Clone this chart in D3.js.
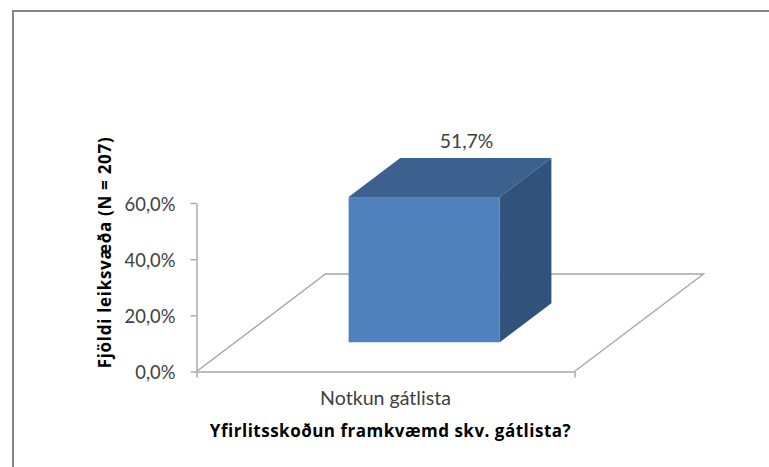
<!DOCTYPE html>
<html>
<head>
<meta charset="utf-8">
<script src="https://cdn.jsdelivr.net/npm/d3@7"></script>
<style>
  html, body { margin: 0; padding: 0; background: #fff; overflow: hidden; }
  text { font-family: Lato, "Open Sans", sans-serif; }
  .axis-title { font-family: "Open Sans", Lato, sans-serif; font-size: 17px; font-weight: 700; }
</style>
</head>
<body>
<div id="chart"></div>
<script>
const categories = ['Notkun gátlista']
const values = [51.7]
const yTicks = [0, 20, 40, 60]
const xTitle = 'Yfirlitsskoðun framkvæmd skv. gátlista?'
const yTitle = 'Fjöldi leiksvæða (N = 207)'

// Our canvas
const width = 769,
  height = 467

const plot = { left: 196.5, right: 574.5, top: 203, bottom: 371.5 }
// how far the floor runs back, in px
const floorDx = 129,
  floorDy = 97.5

let svg = d3.select('#chart')
  .append('svg')
  .attr('width', width)
  .attr('height', height)
  .style('display', 'block')

// Outer frame, open on the right and at the bottom
svg.append('path')
  .attr('d', `M13,${height}V11H${width}`)
  .attr('fill', 'none')
  .attr('stroke', '#868686')
  .attr('stroke-width', 2)

let x = d3.scaleBand()
  .domain(categories)
  .range([plot.left, plot.right])
  .paddingInner(0)
  .paddingOuter(0.75)

let y = d3.scaleLinear()
  .domain([0, 60])
  .range([plot.bottom, plot.top])

// Depth 0 is the front edge of the floor, 1 the back edge
let depthX = d3.scaleLinear().domain([0, 1]).range([0, floorDx])
let depthY = d3.scaleLinear().domain([0, 1]).range([0, -floorDy])

// Floor
svg.append('path')
  .attr('d', [
    `M${plot.left},${plot.bottom}`,
    `L${plot.left + depthX(1)},${plot.bottom + depthY(1)}`,
    `L${plot.right + depthX(1)},${plot.bottom + depthY(1)}`,
    `L${plot.right},${plot.bottom}`
  ].join(''))
  .attr('fill', 'none')
  .attr('stroke', '#a6a6a6')
  .attr('stroke-width', 1.4)

// Axes
let yAxis = svg.append('g')
  .attr('transform', `translate(${plot.left},0)`)
  .call(d3.axisLeft(y)
    .tickValues(yTicks)
    .tickSize(6)
    .tickSizeOuter(0)
    .tickPadding(15)
    .tickFormat(d => d3.format('.1f')(d).replace('.', ',') + '%'))

let xAxis = svg.append('g')
  .attr('transform', `translate(0,${plot.bottom})`)
  .call(d3.axisBottom(x)
    .tickSize(0)
    .tickSizeOuter(6)
    .tickPadding(20))

svg.selectAll('.domain, .tick line')
  .attr('stroke', '#a6a6a6')
  .attr('stroke-width', 1.4)

yAxis.selectAll('.tick text')
  .attr('fill', '#404040')
  .attr('dy', '0.4em')
  .style('font-size', '18.4px')

xAxis.selectAll('.tick text')
  .attr('fill', '#404040')
  .style('font-size', '19.6px')

// Bar, standing in the middle of the floor depth
const barFront = 0.3,
  barBack = 0.7

let bars = svg.append('g')
  .selectAll('g')
  .data(values)
  .enter()
  .append('g')

let x0 = (d, i) => x(categories[i]) + depthX(barFront)
let x1 = (d, i) => x0(d, i) + x.bandwidth()
let yBase = y(0) + depthY(barFront)
let dx = depthX(barBack - barFront)
let dy = depthY(barBack - barFront)
let yTop = d => y(d) + depthY(barFront)

// top face
bars.append('path')
  .attr('d', (d, i) => `M${x0(d, i)},${yTop(d)}l${dx},${dy}H${x1(d, i) + dx}L${x1(d, i)},${yTop(d)}Z`)
  .attr('fill', '#3c618f')

// side face
bars.append('path')
  .attr('d', (d, i) => `M${x1(d, i)},${yTop(d)}l${dx},${dy}V${yBase + dy}L${x1(d, i)},${yBase}Z`)
  .attr('fill', '#31527a')

// front face
bars.append('rect')
  .attr('x', x0)
  .attr('y', yTop)
  .attr('width', x.bandwidth())
  .attr('height', d => yBase - yTop(d))
  .attr('fill', '#4f81bd')

// Value labels
bars.append('text')
  .attr('x', (d, i) => (x0(d, i) + x1(d, i)) / 2 + dx * 0.82)
  .attr('y', d => yTop(d) + dy - 10)
  .attr('text-anchor', 'middle')
  .attr('fill', '#404040')
  .style('font-size', '19.4px')
  .text(d => d3.format('.1f')(d).replace('.', ',') + '%')

// Axis titles
svg.append('text')
  .attr('class', 'axis-title')
  .attr('x', 390.5)
  .attr('y', 437)
  .attr('text-anchor', 'middle')
  .attr('fill', '#000')
  .style('letter-spacing', '0.5px')
  .text(xTitle)

svg.append('text')
  .attr('class', 'axis-title')
  .attr('transform', 'translate(111,252.5) rotate(-90)')
  .attr('text-anchor', 'middle')
  .attr('fill', '#000')
  .style('letter-spacing', '0.7px')
  .text(yTitle)
</script>
</body>
</html>
